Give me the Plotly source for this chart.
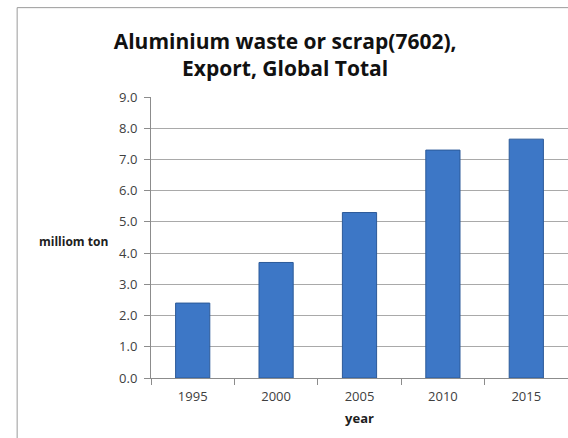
import plotly.graph_objects as go

# Global exports of aluminium waste or scrap (HS 7602), million tons
years = ["1995", "2000", "2005", "2010", "2015"]
export_mt = [2.4, 3.7, 5.3, 7.3, 7.65]
y_ticks = [0.0, 1.0, 2.0, 3.0, 4.0, 5.0, 6.0, 7.0, 8.0, 9.0]

fig = go.Figure()
fig.add_trace(go.Bar(
    x=years,
    y=export_mt,
    marker=dict(color="#3d77c6", line=dict(color="#2c5a99", width=1)),
    width=0.41,
))

font_family = "Open Sans, Liberation Sans, sans-serif"

fig.update_layout(
    width=568,
    height=438,
    margin=dict(l=151, r=0, t=97, b=60),
    paper_bgcolor="white",
    plot_bgcolor="white",
    showlegend=False,
    bargap=0.59,
    title=dict(
        text="<b>Aluminium waste or scrap(7602),<br>Export, Global Total</b>",
        x=0.502, xanchor="center",
        y=0.889, yanchor="middle",
        font=dict(family=font_family, size=21, color="#111111"),
    ),
    font=dict(family=font_family, size=13, color="#404040"),
)

fig.update_xaxes(
    type="category",
    showgrid=False,
    showline=True, linecolor="#8c8c8c", linewidth=1,
    ticks="outside", tickson="boundaries", ticklen=6, tickcolor="#8c8c8c",
    ticklabelstandoff=6,
    tickfont=dict(size=13, color="#404040"),
    title=dict(text="<b>year</b>", font=dict(size=13, color="#202020"), standoff=10),
)

fig.update_yaxes(
    range=[0, 9],
    tickvals=y_ticks,
    tickformat=".1f",
    showgrid=True, gridcolor="#a9a9a9", gridwidth=1,
    showline=True, linecolor="#8c8c8c", linewidth=1,
    ticks="outside", ticklen=6, tickcolor="#8c8c8c",
    ticklabelstandoff=4,
    tickfont=dict(size=13, color="#404040"),
    zeroline=False,
)

# Horizontal y-axis title to the left of the axis
fig.add_annotation(
    text="<b>milliom ton</b>",
    xref="paper", yref="paper",
    x=-0.098, y=0.486,
    xanchor="right", yanchor="middle",
    showarrow=False,
    font=dict(family=font_family, size=12, color="#202020"),
)

# Chart frame: top and left edges
fig.add_shape(type="line", xref="paper", yref="paper",
              x0=-0.321, x1=1.02, y0=1.318, y1=1.318,
              line=dict(color="#9a9a9a", width=1))
fig.add_shape(type="line", xref="paper", yref="paper",
              x0=-0.321, x1=-0.321, y0=1.318, y1=-0.3,
              line=dict(color="#9a9a9a", width=1))

fig.write_html("out.html")
